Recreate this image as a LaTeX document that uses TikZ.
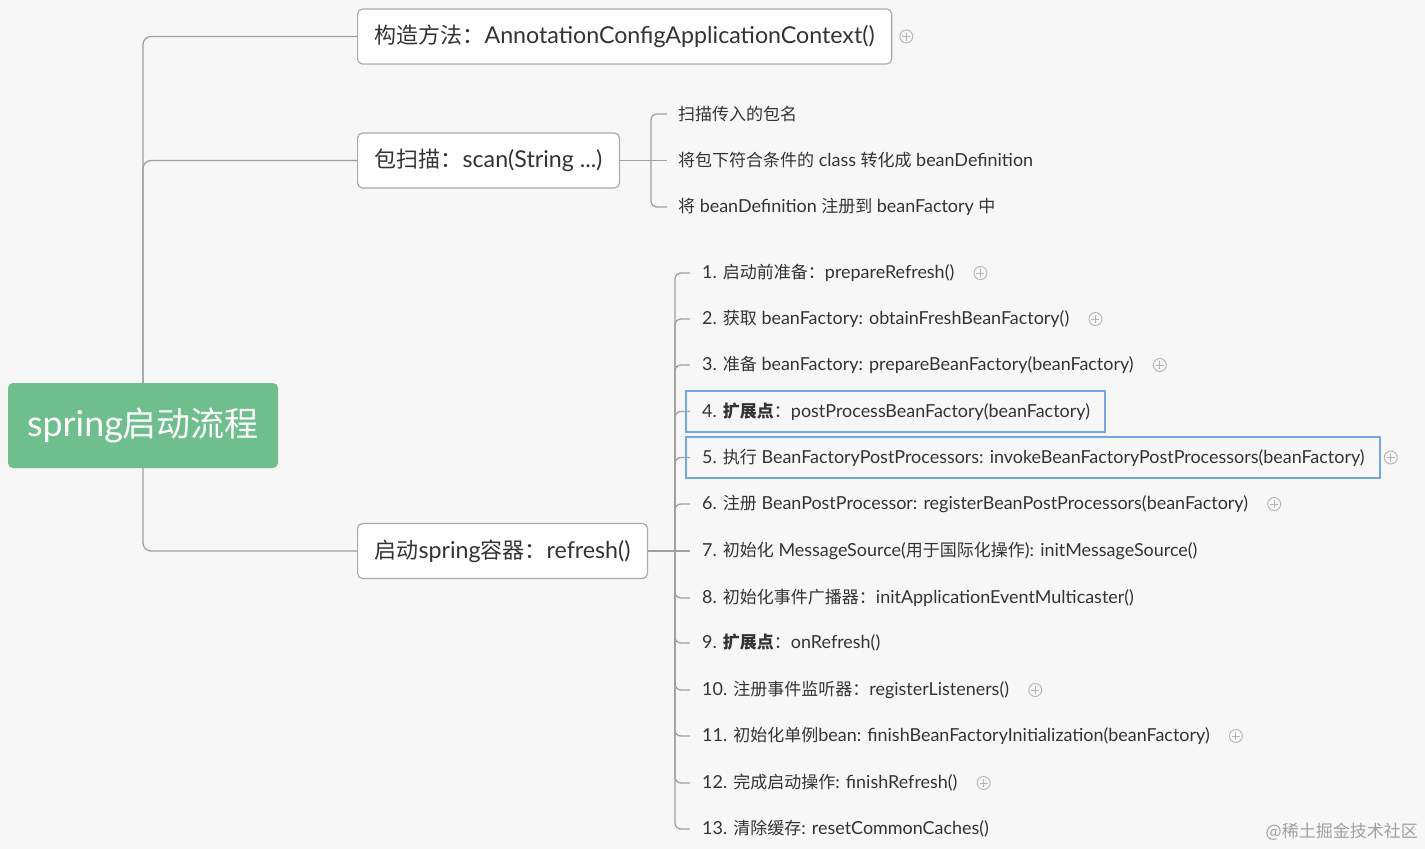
\documentclass[tikz,border=0pt]{standalone}
\usepackage{fontspec}
\setmainfont{Lato}[Scale=1.055]
\newfontfamily\cjk{Noto Sans CJK SC}
\newcommand{\zh}[1]{{\cjk #1}}
\usetikzlibrary{calc}
\definecolor{bg}{HTML}{F7F7F7}
\definecolor{linegray}{HTML}{A0A0A0}
\definecolor{boxgray}{HTML}{ABABAB}
\definecolor{txt}{HTML}{333333}
\definecolor{rootgreen}{RGB}{110,190,142}
\definecolor{hlblue}{HTML}{76A6E4}
\definecolor{expgray}{HTML}{B4B4B4}
\definecolor{wmgray}{HTML}{A0A0A0}
\tikzset{
  conn/.style={draw=linegray, line width=1.3pt, rounded corners=8pt},
  rootbox/.style={fill=rootgreen, rounded corners=5pt, minimum width=270pt, minimum height=85pt,
    text=white, font=\fontsize{34}{40}\selectfont, inner sep=0pt},
  topic/.style={draw=boxgray, fill=white, rounded corners=5pt, line width=1.2pt, anchor=west,
    font=\fontsize{22}{26}\selectfont, text=txt, inner xsep=17pt, inner ysep=0pt, minimum height=55pt},
  leaf/.style={anchor=west, inner xsep=11pt, inner ysep=2pt, font=\fontsize{17}{20}\selectfont, text=txt},
  item/.style={leaf, inner xsep=12pt},
  hl/.style={draw=hlblue, line width=2.2pt},
  expander/.style={circle, draw=expgray, line width=0.9pt, minimum size=13pt, inner sep=0pt,
    path picture={\draw[expgray, line width=0.9pt]
      ([xshift=-4pt]path picture bounding box.center) -- ([xshift=4pt]path picture bounding box.center)
      ([yshift=-4pt]path picture bounding box.center) -- ([yshift=4pt]path picture bounding box.center);}},
  watermark/.style={anchor=east, text=wmgray, font=\fontsize{17}{20}\selectfont\cjk, inner sep=0pt}
}
\begin{document}
\begin{tikzpicture}[x=1pt,y=-1pt]
\fill[bg] (0,0) rectangle (1425,849);
\useasboundingbox (0,0) rectangle (1425,849);

% root
\node[rootbox] (root) at (143,425.5) {spring\zh{启动流程}};

% main topics
\node[topic] (b1) at (357,36.5) {\zh{构造方法：}AnnotationConfigApplicationContext()};
\node[topic] (b2) at (357,160.5) {\zh{包扫描：}scan(String ...)};
\node[topic] (b3) at (357,551) {\zh{启动}spring\zh{容器：}refresh()};

\draw[conn] (root.north) |- (b1.west);
\draw[conn] (root.north) |- (b2.west);
\draw[conn] (root.south) |- (b3.west);

% package scan children
\coordinate (j2) at (651,160.5);
\node[leaf] (c1) at (667,114) {\zh{扫描传入的包名}};
\node[leaf] (c2) at (667,160.5) {\zh{将包下符合条件的} class \zh{转化成} beanDefinition};
\node[leaf] (c3) at (667,207) {\zh{将} beanDefinition \zh{注册到} beanFactory \zh{中}};
\draw[conn] (b2.east) -- (j2);
\draw[conn,rounded corners=6pt] (j2) |- (c1.west);
\draw[conn] (j2) -- (c2.west);
\draw[conn,rounded corners=6pt] (j2) |- (c3.west);

% refresh children
\coordinate (j3) at (675,551);
\node[item] (i1) at (690,273) {1. \zh{启动前准备：}prepareRefresh()};
\node[item] (i2) at (690,319) {2. \zh{获取} beanFactory: obtainFreshBeanFactory()};
\node[item] (i3) at (690,365) {3. \zh{准备} beanFactory: prepareBeanFactory(beanFactory)};
\node[item] (i4) at (690,411.5) {4. \textbf{\zh{扩展点}}\zh{：}postProcessBeanFactory(beanFactory)};
\node[item] (i5) at (690,457.5) {5. \zh{执行} BeanFactoryPostProcessors: invokeBeanFactoryPostProcessors(beanFactory)};
\node[item] (i6) at (690,504) {6. \zh{注册} BeanPostProcessor: registerBeanPostProcessors(beanFactory)};
\node[item] (i7) at (690,551) {7. \zh{初始化} MessageSource(\zh{用于国际化操作}): initMessageSource()};
\node[item] (i8) at (690,598) {8. \zh{初始化事件广播器：}initApplicationEventMulticaster()};
\node[item] (i9) at (690,643) {9. \textbf{\zh{扩展点}}\zh{：}onRefresh()};
\node[item] (i10) at (690,690) {10. \zh{注册事件监听器：}registerListeners()};
\node[item] (i11) at (690,736) {11. \zh{初始化单例}bean: finishBeanFactoryInitialization(beanFactory)};
\node[item] (i12) at (690,783) {12. \zh{完成启动操作}: finishRefresh()};
\node[item] (i13) at (690,829) {13. \zh{清除缓存}: resetCommonCaches()};

\draw[conn] (b3.east) -- (j3);
\foreach \n in {i1,i2,i3,i4,i5,i6,i8,i9,i10,i11,i12,i13}
  \draw[conn,rounded corners=6pt] (j3) |- (\n.west);
\draw[conn] (j3) -- (i7.west);

% highlight frames
\draw[hl] ($(i4.west)+(-4,-20.5)$) rectangle ($(i4.east)+(3,20.5)$);
\draw[hl] ($(i5.west)+(-4,-20.5)$) rectangle ($(i5.east)+(3,20.5)$);

% expanders
\node[expander] (e0) at ([xshift=14pt]b1.east) {};
\node[expander] (e1) at ([xshift=14pt]i1.east) {};
\node[expander] (e2) at ([xshift=14pt]i2.east) {};
\node[expander] (e3) at ([xshift=14pt]i3.east) {};
\node[expander] (e5) at ([xshift=14pt]i5.east) {};
\node[expander] (e6) at ([xshift=14pt]i6.east) {};
\node[expander] (e10) at ([xshift=14pt]i10.east) {};
\node[expander] (e11) at ([xshift=14pt]i11.east) {};
\node[expander] (e12) at ([xshift=14pt]i12.east) {};

% watermark
\node[watermark] (wm) at (1418,832) {@稀土掘金技术社区};
\end{tikzpicture}
\end{document}
